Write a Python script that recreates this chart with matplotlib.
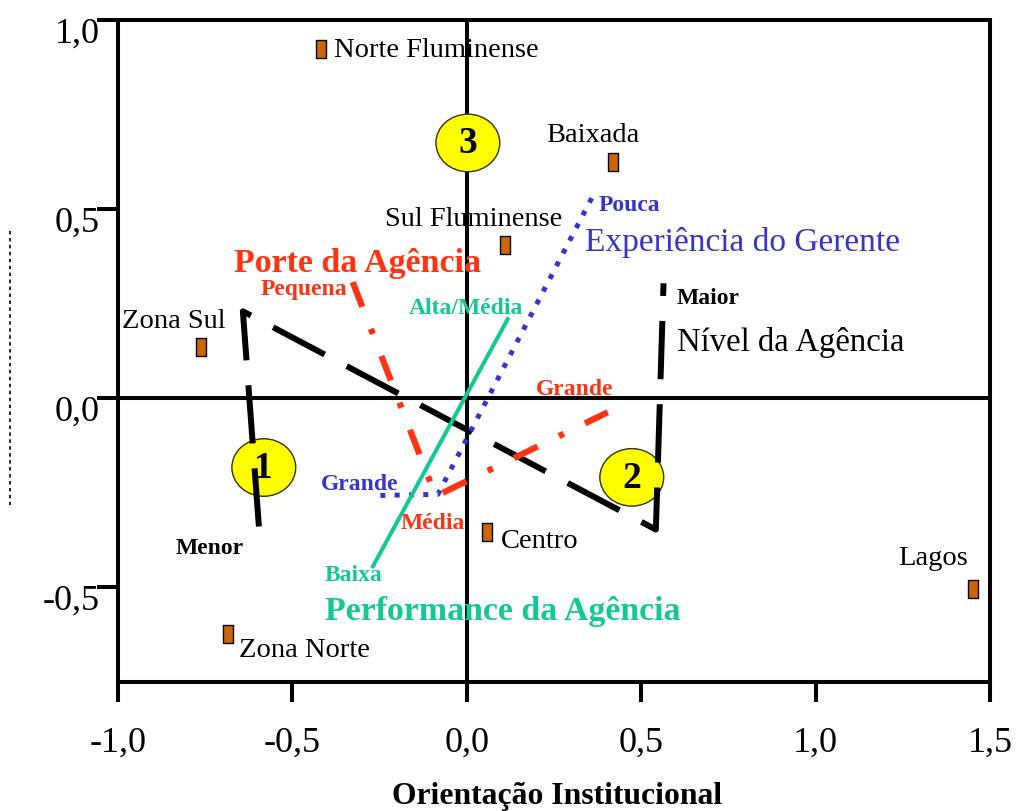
import numpy as np
import matplotlib
matplotlib.use("Agg")
import matplotlib.pyplot as plt
from matplotlib.patches import Ellipse
from matplotlib.lines import Line2D
import matplotlib.transforms as mtransforms

plt.rcParams['font.family'] = ['Liberation Serif', 'DejaVu Serif']
plt.rcParams['lines.scale_dashes'] = False

# ============================================================
# data
# ============================================================
regioes = ['Norte Fluminense', 'Baixada', 'Sul Fluminense', 'Zona Sul',
           'Centro', 'Zona Norte', 'Lagos']
reg_x = [-0.418, 0.418, 0.109, -0.762, 0.057, -0.685, 1.450]
reg_y = [0.923, 0.624, 0.405, 0.135, -0.354, -0.624, -0.503]

# Nível da Agência (Menor ... Maior)
nivel_x = [-0.596, -0.642, 0.542, 0.564]
nivel_y = [-0.339, 0.230, -0.347, 0.304]

# Porte da Agência (Pequena, Média, Grande)
porte_x = [-0.327, -0.089, 0.404]
porte_y = [0.307, -0.259, -0.037]

# Experiência do Gerente (Pouca ... Grande)
exper_x = [0.358, -0.083, -0.255]
exper_y = [0.529, -0.254, -0.257]

# Performance da Agência (Alta/Média, Baixa)
perf_x = [0.117, -0.269]
perf_y = [0.209, -0.444]

# grupos
grupo_nomes = ['1', '2', '3']
grupo_x = [-0.582, 0.473, 0.003]
grupo_y = [-0.183, -0.209, 0.675]

xticks = [-1.0, -0.5, 0.0, 0.5, 1.0, 1.5]
yticks = [-0.5, 0.0, 0.5, 1.0]

RED = '#FF3311'
BLUE = '#3535CC'
GREEN = '#14C896'
ORANGE = '#CC6600'

# ============================================================
# figure
# ============================================================
fig = plt.figure(figsize=(10.34, 8.12), dpi=100)
ax = fig.add_axes([118 / 1034, 1 - 683 / 812, 872 / 1034, 662 / 812])
ax.set_xlim(-1.0, 1.5)
ax.set_ylim(-0.75, 1.0)

for s in ax.spines.values():
    s.set_linewidth(2.9)

ax.axhline(0, color='black', lw=2.9, zorder=1)
ax.axvline(0, color='black', lw=2.9, zorder=1)

# circles of the groups
for nome, gx, gy in zip(grupo_nomes, grupo_x, grupo_y):
    ax.add_patch(Ellipse((gx, gy), 0.183, 0.152, facecolor='#FFFF00',
                         edgecolor='#333300', lw=1.0, zorder=2))
    ax.text(gx, gy, nome, fontsize=27, fontweight='bold', ha='center',
            va='center', zorder=3)

# lines of the variables
ax.plot(nivel_x, nivel_y, color='black', lw=4.3, dashes=(42, 18),
        dash_capstyle='butt', zorder=4)
ax.plot(porte_x, porte_y, color=RED, lw=4.5, dashes=(19, 17, 4, 17),
        dash_capstyle='butt', zorder=4)
ax.plot(exper_x, exper_y, color=BLUE, lw=3.6, dashes=(3.6, 6.7),
        dash_capstyle='butt', zorder=5)
ax.plot(perf_x, perf_y, color=GREEN, lw=2.9, zorder=5)

# regions
rect = [(-0.28, -0.5), (0.28, -0.5), (0.28, 0.5), (-0.28, 0.5), (-0.28, -0.5)]
ax.plot(reg_x, reg_y, ls='none', marker=rect, ms=13, mfc=ORANGE,
        mec='black', mew=1.0, zorder=6)

reg_txt = {
    'Norte Fluminense': (-0.381, 0.923, 'left'),
    'Baixada': (0.361, 0.698, 'center'),
    'Sul Fluminense': (0.275, 0.476, 'right'),
    'Zona Sul': (-0.691, 0.206, 'right'),
    'Centro': (0.097, -0.376, 'left'),
    'Zona Norte': (-0.653, -0.664, 'left'),
    'Lagos': (1.438, -0.421, 'right'),
}
for nome in regioes:
    tx, ty, ha = reg_txt[nome]
    ax.text(tx, ty, nome, fontsize=20.5, ha=ha, va='center', zorder=7)

# variable labels
big = dict(va='center', ha='left', zorder=7)
small = dict(fontsize=17, fontweight='bold', va='center', ha='left', zorder=7)
ax.text(-0.668, 0.360, 'Porte da Agência', color=RED, fontweight='bold',
        fontsize=24.5, **big)
ax.text(-0.590, 0.291, 'Pequena', color=RED, **small)
ax.text(0.198, 0.026, 'Grande', color=RED, **small)
ax.text(-0.189, -0.328, 'Média', color=RED, **small)
ax.text(0.338, 0.415, 'Experiência do Gerente', color=BLUE, fontsize=24, **big)
ax.text(0.378, 0.513, 'Pouca', color=BLUE, **small)
ax.text(-0.418, -0.225, 'Grande', color=BLUE, **small)
ax.text(0.602, 0.151, 'Nível da Agência', color='black', fontsize=23.6, **big)
ax.text(0.602, 0.267, 'Maior', color='black', **small)
ax.text(-0.834, -0.394, 'Menor', color='black', **small)
ax.text(-0.407, -0.561, 'Performance da Agência', color=GREEN,
        fontweight='bold', fontsize=24.4, **big)
ax.text(-0.166, 0.241, 'Alta/Média', color=GREEN, **small)
ax.text(-0.407, -0.466, 'Baixa', color=GREEN, **small)

# ticks
ax.set_xticks(xticks)
ax.set_xticklabels([f'{v:.1f}'.replace('.', ',') for v in xticks])
ax.set_yticks(yticks)
ax.set_yticklabels([f'{v:.1f}'.replace('.', ',') for v in yticks])
ax.tick_params(axis='x', direction='out', length=14.5, width=2.9,
               labelsize=26, pad=17)
ax.tick_params(axis='y', direction='out', length=15, width=2.9,
               labelsize=26, pad=-2)
off = mtransforms.ScaledTranslation(0, -9 / 100, fig.dpi_scale_trans)
for lab in ax.get_yticklabels():
    lab.set_transform(lab.get_transform() + off)

ax.set_xlabel('Orientação Institucional', fontsize=22.8, fontweight='bold')
ax.xaxis.set_label_coords(0.503, -0.172)
ax.xaxis.label.set_va('center')

# dotted mark at the left edge
fig.add_artist(Line2D([10 / 1034, 10 / 1034], [1 - 232 / 812, 1 - 506 / 812],
                      color='black', lw=1.2, dashes=(2.5, 2.5)))

plt.savefig('out.png', dpi=100)
